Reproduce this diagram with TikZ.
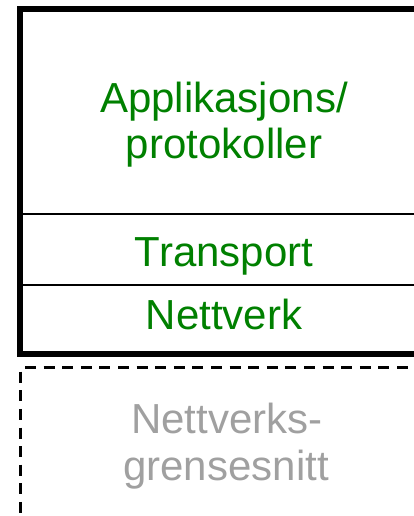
\documentclass[tikz,border=0pt]{standalone}
\usepackage{fontspec}
\setmainfont{Liberation Sans}
\definecolor{layergreen}{RGB}{0,128,0}
\definecolor{layergray}{RGB}{160,160,160}
\begin{document}
\begin{tikzpicture}[x=1pt,y=-1pt,
  label/.style={font=\fontsize{42}{45}\selectfont, inner sep=0pt, anchor=base},
  stack/.style={draw=black, line width=6pt},
  divider/.style={draw=black, line width=2pt},
  hidden/.style={draw=black, line width=2.7pt, dash pattern=on 11pt off 7.6pt}]
  \useasboundingbox (0,0) rectangle (413,516);
  % protocol stack frame and layer separators
  \draw[stack] (20,9) rectangle (427,354);
  \draw[divider] (20,214) -- (430,214);
  \draw[divider] (20,285) -- (430,285);
  % network interface layer, outside the stack
  \draw[hidden] (25,367.3) -- (440,367.3);
  \draw[hidden] (20.5,371.7) -- (20.5,540);
  % layer names
  \node[label, text=layergreen] (app1) at (224,113) {Applikasjons/};
  \node[label, text=layergreen] (app2) at (224,158) {protokoller};
  \node[label, text=layergreen] (tr) at (224,266) {Transport};
  \node[label, text=layergreen] (nw) at (224,329) {Nettverk};
  \node[label, text=layergray] (ni1) at (227,433) {Nettverks-};
  \node[label, text=layergray] (ni2) at (226,480) {grensesnitt};
\end{tikzpicture}
\end{document}
